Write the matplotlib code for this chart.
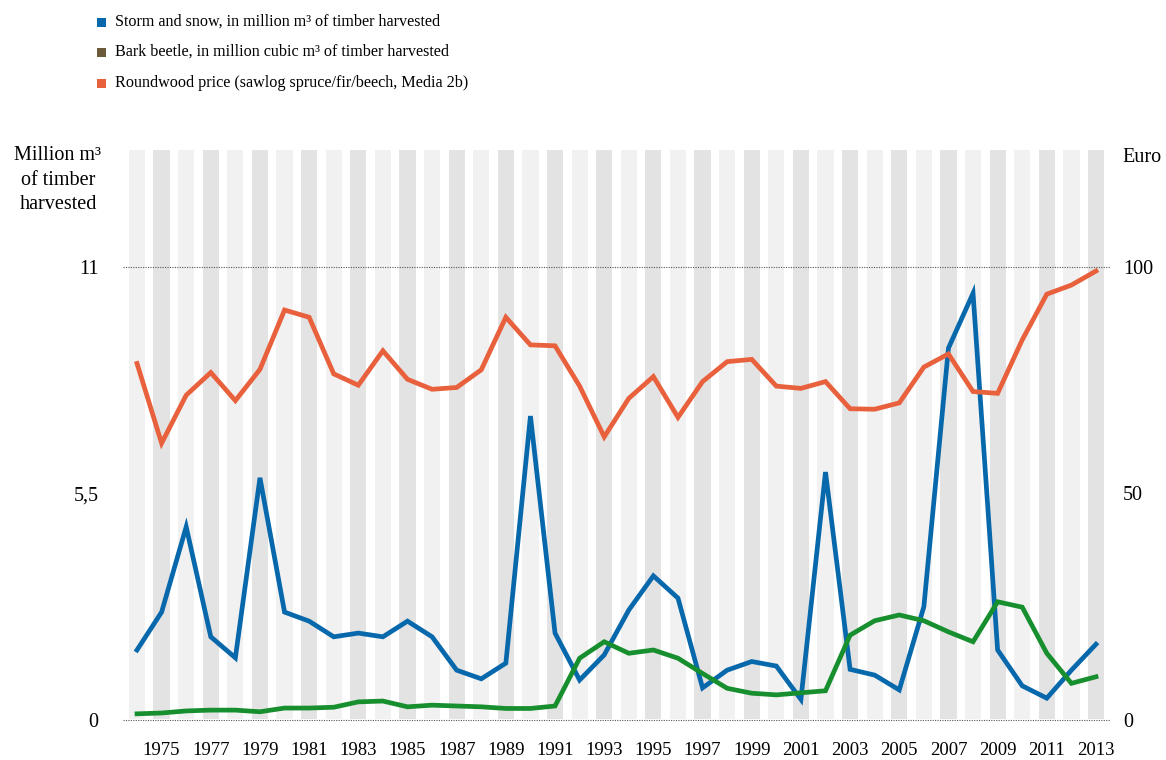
import matplotlib
matplotlib.use("Agg")
import matplotlib.pyplot as plt
import numpy as np
from matplotlib.patches import Rectangle

years = list(range(1974, 2014))
storm = [1.70, 2.62, 4.69, 2.02, 1.51, 5.88, 2.62, 2.40, 2.02, 2.11,
         2.02, 2.40, 2.02, 1.21, 1.00, 1.38, 7.38, 2.11, 0.97, 1.58,
         2.67, 3.50, 2.96, 0.78, 1.21, 1.42, 1.31, 0.50, 6.02, 1.23,
         1.09, 0.73, 2.75, 9.03, 10.36, 1.70, 0.83, 0.53, 1.21, 1.84]
beetle = [0.15, 0.17, 0.22, 0.24, 0.24, 0.20, 0.29, 0.29, 0.31, 0.44,
          0.46, 0.32, 0.36, 0.34, 0.32, 0.28, 0.28, 0.34, 1.50, 1.90,
          1.62, 1.70, 1.50, 1.13, 0.77, 0.65, 0.61, 0.66, 0.71, 2.06,
          2.41, 2.55, 2.41, 2.14, 1.90, 2.87, 2.74, 1.62, 0.89, 1.05]
price = [78.7, 61.1, 71.7, 76.7, 70.5, 77.4, 90.5, 88.9, 76.4, 73.9,
         81.5, 75.2, 73.0, 73.4, 77.3, 88.9, 82.8, 82.6, 73.7, 62.5,
         71.0, 75.8, 66.8, 74.7, 79.1, 79.6, 73.7, 73.2, 74.7, 68.7,
         68.6, 70.0, 77.9, 80.8, 72.5, 72.1, 83.9, 94.0, 96.0, 99.1]
year_labels = list(range(1975, 2014, 2))
left_ticks = [0, 5.5, 11]
left_tick_labels = ["0", "5,5", "11"]
right_ticks = [0, 50, 100]
right_tick_labels = ["0", "50", "100"]

legend_labels = ["Storm and snow, in million m³ of timber harvested",
                 "Bark beetle, in million cubic m³ of timber harvested",
                 "Roundwood price (sawlog spruce/fir/beech, Media 2b)"]

C_BLUE = "#0868ac"
C_GREEN = "#178f2e"
C_BROWN = "#6b5b3a"
C_ORANGE = "#e8603c"
C_LIGHT = "#f1f1f1"
C_DARK = "#e3e3e3"

plt.rcParams['font.family'] = ['Liberation Serif', 'DejaVu Serif']
FS = 13.5

fig = plt.figure(figsize=(11.66, 7.6), dpi=100)
W, H = 1166, 760
ax = fig.add_axes([123 / W, (760 - 720) / H, (1110 - 123) / W, (720 - 150) / H])
ax2 = ax.twinx()

YMAX = 13.84
ax.set_xlim(1973.43, 2013.57)
ax.set_ylim(0, YMAX)
ax2.set_ylim(0, YMAX / 11 * 100)

# bands
for i, yr in enumerate(years):
    ax.add_patch(Rectangle((yr - 0.33, 0.03), 0.66, YMAX,
                           facecolor=C_LIGHT if i % 2 == 0 else C_DARK,
                           edgecolor='none', zorder=0))

for v in [0, 11]:
    ax.axhline(v, color="#555555", lw=0.8, ls=(0, (1, 1.2)), zorder=2, clip_on=False)

LW = 3.4
ax.plot(years, storm, color=C_BLUE, lw=LW, zorder=3, solid_joinstyle='miter')
ax.plot(years, beetle, color=C_GREEN, lw=LW, zorder=3, solid_joinstyle='miter')
ax2.plot(years, price, color=C_ORANGE, lw=LW, zorder=4, solid_joinstyle='miter')

for a in (ax, ax2):
    for s in a.spines.values():
        s.set_visible(False)

ax.set_xticks(year_labels)
ax.set_xticklabels([str(y) for y in year_labels], fontsize=FS)
ax.tick_params(axis='x', length=0, pad=16)
ax.set_yticks(left_ticks)
ax.set_yticklabels(left_tick_labels, fontsize=FS + 1)
ax.tick_params(axis='y', length=0, pad=17.5)
ax2.set_yticks(right_ticks)
ax2.set_yticklabels(right_tick_labels, fontsize=FS + 1)
ax2.tick_params(axis='y', length=0, pad=9.5)

fig.text(58 / W, 1 - 146 / H, "Million m³\nof timber\nharvested", ha='center', va='top',
         fontsize=FS + 1, linespacing=1.4, multialignment='center')
fig.text(1122 / W, 1 - 157 / H, "Euro", ha='left', va='center', fontsize=FS + 1)

# legend
for lab, col, yp in zip(legend_labels, [C_BLUE, C_BROWN, C_ORANGE], [22, 52, 83]):
    fig.patches.append(Rectangle((97 / W, 1 - (yp + 5) / H), 9 / W, 9 / H,
                                 facecolor=col, edgecolor='none',
                                 transform=fig.transFigure, figure=fig))
    fig.text(115 / W, 1 - yp / H, lab, ha='left', va='center', fontsize=11.6)

fig.savefig("out.png", dpi=100)
